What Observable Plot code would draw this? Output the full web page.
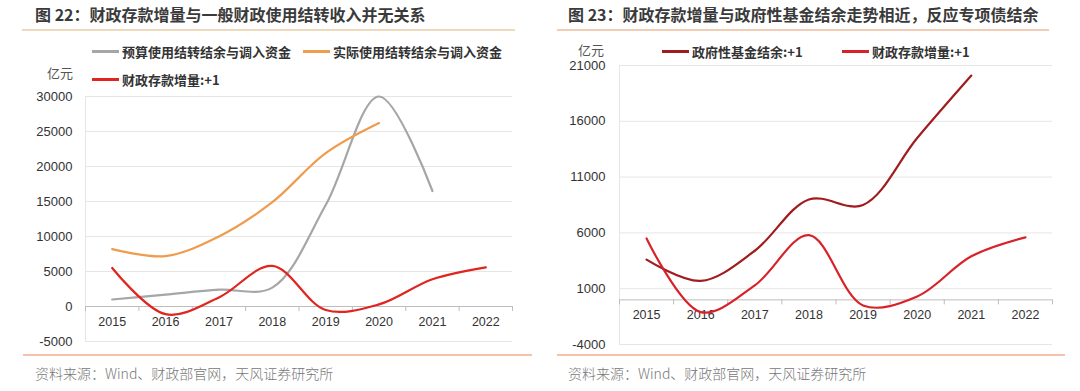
<!DOCTYPE html>
<html>
<head>
<meta charset="utf-8">
<script src="https://cdn.jsdelivr.net/npm/d3@7"></script>
<script src="https://cdn.jsdelivr.net/npm/@observablehq/plot@0.6"></script>
<style>
  html, body { margin: 0; padding: 0; background: #fff; }
  #root { position: relative; width: 1080px; height: 391px; overflow: hidden; font-family: "Noto Sans CJK SC", "Noto Sans", sans-serif; }
  .abs { position: absolute; white-space: nowrap; }
  .title { font-weight: bold; font-size: 16px; color: #3a3a3a; line-height: 1; }
  .hr { position: absolute; height: 2px; }
  .src { font-size: 14px; color: #777; font-weight: 300; line-height: 1; }
  .unit { font-size: 13px; color: #555; line-height: 1; }
  .leg { font-size: 13px; font-weight: bold; color: #333; line-height: 1; display: flex; align-items: center; }
  .sw { display: inline-block; width: 27px; height: 2.5px; margin-right: 3px; }
  svg { position: absolute; }
</style>
</head>
<body>
<div id="root"></div>
<script>
// ---- data ----
const years = [2015, 2016, 2017, 2018, 2019, 2020, 2021, 2022];
const budgetCarry = [1000, 1700, 2400, 2700, 14500, 30000, 16500];          // 预算使用结转结余与调入资金 (2015-2021)
const actualCarry = [8200, 7200, 10000, 14900, 21900, 26200];               // 实际使用结转结余与调入资金 (2015-2020)
const depositIncr = [5500, -1100, 1300, 5800, -500, 300, 3900, 5600];       // 财政存款增量:+1 (2015-2022)
const fundBalance = [3600, 1700, 4400, 9000, 8500, 14500, 20100];           // 政府性基金结余:+1 (2015-2021)
const leftTicks = [-5000, 0, 5000, 10000, 15000, 20000, 25000, 30000];
const rightTicks = [-4000, 1000, 6000, 11000, 16000, 21000];
const titleL = "图 22：财政存款增量与一般财政使用结转收入并无关系";
const titleR = "图 23：财政存款增量与政府性基金结余走势相近，反应专项债结余";
const source = "资料来源：Wind、财政部官网，天风证券研究所";
const namesL = ["预算使用结转结余与调入资金", "实际使用结转结余与调入资金", "财政存款增量:+1"];
const namesR = ["政府性基金结余:+1", "财政存款增量:+1"];
const colL = ["#a6a6a6", "#ee9c4e", "#e0241e"];
const colR = ["#a01c1f", "#d8222a"];

const root = document.getElementById("root");
function el(html) { const d = document.createElement("div"); d.innerHTML = html; const n = d.firstElementChild; root.appendChild(n); return n; }

// titles + rules
el(`<div class="abs title" style="left:35px;top:6px">${titleL}</div>`);
el(`<div class="abs title" style="left:568px;top:6px">${titleR}</div>`);
el(`<div class="hr" style="left:22px;width:493px;top:29px;background:#efd9bd"></div>`);
el(`<div class="hr" style="left:557px;width:492px;top:29px;background:#f2cdb5"></div>`);
el(`<div class="hr" style="left:23px;width:509px;top:354px;background:#f6c3aa"></div>`);
el(`<div class="hr" style="left:557px;width:508px;top:354px;background:#f6c3aa"></div>`);
el(`<div class="abs src" style="left:35px;top:366px">${source}</div>`);
el(`<div class="abs src" style="left:568px;top:366px">${source}</div>`);
el(`<div class="abs unit" style="left:47px;top:66px">亿元</div>`);
el(`<div class="abs unit" style="left:578px;top:43px">亿元</div>`);

// legends
el(`<div class="abs leg" style="left:92px;top:45px"><span class="sw" style="background:${colL[0]}"></span>${namesL[0]}</div>`);
el(`<div class="abs leg" style="left:303px;top:45px"><span class="sw" style="background:${colL[1]}"></span>${namesL[1]}</div>`);
el(`<div class="abs leg" style="left:92px;top:73px"><span class="sw" style="background:${colL[2]}"></span>${namesL[2]}</div>`);
el(`<div class="abs leg" style="left:662px;top:45px"><span class="sw" style="background:${colR[0]}"></span>${namesR[0]}</div>`);
el(`<div class="abs leg" style="left:842px;top:45px"><span class="sw" style="background:${colR[1]}"></span>${namesR[1]}</div>`);

function series(vals) { return vals.map((v, i) => ({year: years[i], value: v})); }
const bounds = d3.range(years.length + 1).map(i => years[0] - 0.5 + i);

function makeChart({ticks, seriesList, colors, width, height, mt, mb, ml, mr, tickPad}) {
  const ydom = [ticks[0], ticks[ticks.length - 1]];
  const innerH = height - mt - mb;
  const tickLen = 5 * (ydom[1] - ydom[0]) / innerH;
  return Plot.plot({
    width, height, marginTop: mt, marginBottom: mb, marginLeft: ml, marginRight: mr,
    style: {fontFamily: "Liberation Sans, Arial, sans-serif", fontSize: "13px", color: "#333", background: "transparent"},
    x: {domain: [bounds[0], bounds[bounds.length - 1]], axis: null},
    y: {domain: ydom, ticks, tickSize: 0, tickPadding: tickPad, label: null, tickFormat: d => String(d)},
    marks: [
      Plot.ruleY(ticks.filter(t => t !== 0), {stroke: "#e6e6e6", strokeWidth: 1}),
      Plot.ruleX([bounds[0]], {stroke: "#e6e6e6", strokeWidth: 1}),
      Plot.ruleY([0], {stroke: "#bdbdbd", strokeWidth: 1}),
      Plot.ruleX(bounds, {x: d => d, y1: 0, y2: -tickLen, stroke: "#bdbdbd", strokeWidth: 1}),
      Plot.text(years, {x: d => d, y: 0, dy: 15, text: d => String(d), fontSize: 12.5, fill: "#333"}),
      ...seriesList.map((s, i) => Plot.line(series(s), {x: "year", y: "value", stroke: colors[i], strokeWidth: 2.2, curve: "catmull-rom"}))
    ]
  });
}

const left = makeChart({ticks: leftTicks, seriesList: [budgetCarry, actualCarry, depositIncr], colors: colL,
  width: 530, height: 275, mt: 10, mb: 20, ml: 85, mr: 18, tickPad: 13});
left.style.left = "0px"; left.style.top = "86px";
root.appendChild(left);

const right = makeChart({ticks: rightTicks, seriesList: [fundBalance, depositIncr], colors: colR,
  width: 530, height: 300, mt: 10, mb: 11, ml: 79, mr: 18, tickPad: 14});
right.style.left = "540px"; right.style.top = "55px";
root.appendChild(right);
</script>
</body>
</html>
